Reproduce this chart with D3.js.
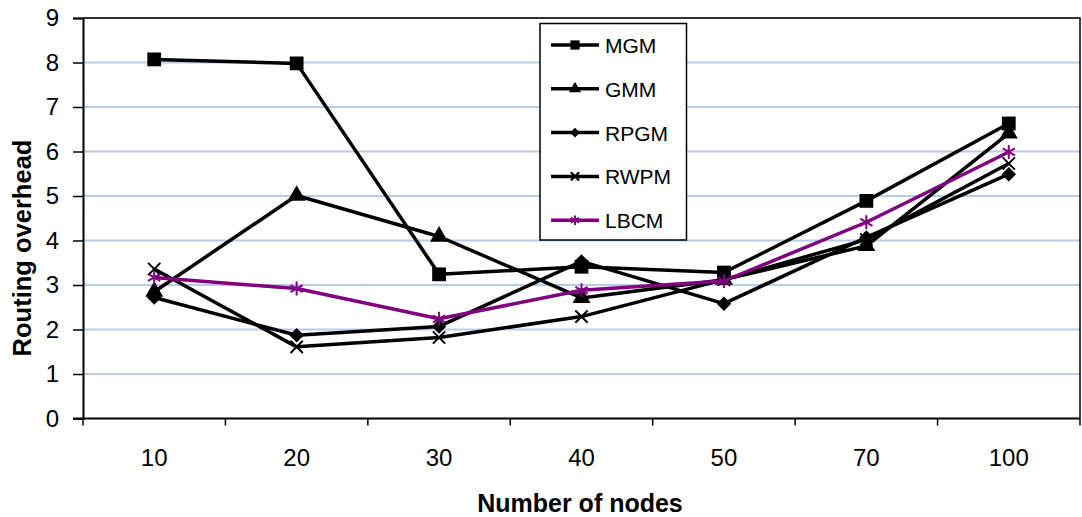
<!DOCTYPE html>
<html>
<head>
<meta charset="utf-8">
<script src="https://cdn.jsdelivr.net/npm/d3@7"></script>
<style>
  html, body { margin: 0; padding: 0; background: #fff; }
  svg { display: block; font-family: "Liberation Sans", Arial, sans-serif; }
</style>
</head>
<body>
<svg id="chart" width="1082" height="517"></svg>
<script>
// Routing overhead per scheme, by number of nodes
const categories = ["10", "20", "30", "40", "50", "70", "100"];
const yTicks = [0, 1, 2, 3, 4, 5, 6, 7, 8, 9];
const seriesNames = ["MGM", "GMM", "RPGM", "RWPM", "LBCM"];
const MGM  = [8.07, 7.98, 3.24, 3.41, 3.28, 4.89, 6.63];
const GMM  = [2.85, 5.01, 4.09, 2.71, 3.12, 3.88, 6.41];
const RPGM = [2.72, 1.87, 2.07, 3.53, 2.58, 4.07, 5.49];
const RWPM = [3.36, 1.61, 1.82, 2.29, 3.12, 4.02, 5.73];
const LBCM = [3.17, 2.92, 2.24, 2.88, 3.09, 4.41, 5.99];
const seriesValues = [MGM, GMM, RPGM, RWPM, LBCM];
const seriesColors = ["#000000", "#000000", "#000000", "#000000", "#800080"];
const seriesMarkers = ["square", "triangle", "diamond", "x", "asterisk"];

const svg = d3.select("#chart");
const plot = { left: 83, right: 1080, top: 18, bottom: 418.5 };

const x = d3.scaleBand().domain(categories).range([plot.left, plot.right]).padding(0);
const y = d3.scaleLinear().domain([0, 9]).range([plot.bottom, plot.top]);
const cx = c => x(c) + x.bandwidth() / 2;

// horizontal gridlines
svg.append("g")
  .selectAll("line")
  .data(yTicks.filter(t => t > 0))
  .join("line")
  .attr("x1", plot.left).attr("x2", plot.right)
  .attr("y1", d => y(d)).attr("y2", d => y(d))
  .attr("stroke", "#b9cbea").attr("stroke-width", 2);

// plot frame (top and right)
svg.append("path")
  .attr("d", `M${plot.left},${plot.top}H${plot.right}V${plot.bottom}`)
  .attr("fill", "none").attr("stroke", "#000").attr("stroke-width", 1.5);

// y axis
const yAxis = svg.append("g")
  .attr("transform", `translate(${plot.left},0)`)
  .call(d3.axisLeft(y).tickValues(yTicks).tickSize(10).tickPadding(14).tickFormat(d3.format("d")));
yAxis.select(".domain").attr("stroke-width", 2);
yAxis.selectAll(".tick line").attr("stroke-width", 1.5);
yAxis.selectAll("text").attr("font-size", 24).attr("font-family", "Liberation Sans, Arial, sans-serif").attr("fill", "#000");

// x axis: ticks on band boundaries, labels centred in bands
const xAxis = svg.append("g")
  .attr("transform", `translate(0,${plot.bottom})`);
xAxis.append("line")
  .attr("x1", plot.left - 10).attr("x2", plot.right)
  .attr("stroke", "#000").attr("stroke-width", 2);
const bounds = categories.map(c => x(c)).concat([plot.right]);
xAxis.selectAll("line.tk")
  .data(bounds)
  .join("line").attr("class", "tk")
  .attr("x1", d => d).attr("x2", d => d)
  .attr("y1", 0).attr("y2", 7)
  .attr("stroke", "#000").attr("stroke-width", 1.5);
xAxis.selectAll("text")
  .data(categories)
  .join("text")
  .attr("x", d => cx(d)).attr("y", 47)
  .attr("text-anchor", "middle")
  .attr("font-size", 24)
  .text(d => d);

// axis titles
svg.append("text")
  .attr("x", 580).attr("y", 512)
  .attr("text-anchor", "middle")
  .attr("font-size", 25).attr("font-weight", "bold")
  .text("Number of nodes");
svg.append("text")
  .attr("transform", "translate(31,248) rotate(-90)")
  .attr("text-anchor", "middle")
  .attr("font-size", 25.5).attr("font-weight", "bold")
  .text("Routing overhead");

// marker shapes
function markerPath(kind, scale) {
  switch (kind) {
    case "square":   return d3.symbol(d3.symbolSquare, 190 * scale)();
    case "triangle": return d3.symbol(d3.symbolTriangle, 140 * scale)();
    case "diamond":  return d3.symbol(d3.symbolSquare, 105 * scale)();
    case "x":        return d3.symbol(d3.symbolX, 100 * scale)();
    case "asterisk": return d3.symbol(d3.symbolAsterisk, 140 * scale)();
  }
}
function drawMarker(g, kind, color, px, py, scale) {
  const stroked = kind === "x" || kind === "asterisk";
  const p = g.append("path")
    .attr("d", markerPath(kind, scale))
    .attr("transform", `translate(${px},${py})` + (kind === "diamond" ? " rotate(45)" : ""));
  if (stroked) p.attr("fill", "none").attr("stroke", color).attr("stroke-width", 2);
  else p.attr("fill", color);
}

const line = d3.line().x(d => cx(d.c)).y(d => y(d.v));

seriesNames.forEach((name, i) => {
  const pts = categories.map((c, j) => ({ c, v: seriesValues[i][j] }));
  const g = svg.append("g").attr("class", "series-" + name);
  g.append("path")
    .datum(pts)
    .attr("d", line)
    .attr("fill", "none")
    .attr("stroke", seriesColors[i])
    .attr("stroke-width", 3.5)
    .attr("stroke-linejoin", "round");
  pts.forEach(p => drawMarker(g, seriesMarkers[i], seriesColors[i], cx(p.c), y(p.v), 1));
});

// legend
const legend = svg.append("g");
legend.append("rect")
  .attr("x", 540).attr("y", 23.5).attr("width", 146.5).attr("height", 216.5)
  .attr("fill", "#fff").attr("stroke", "#000").attr("stroke-width", 1.5);
seriesNames.forEach((name, i) => {
  const ly = 45 + i * 43.8;
  legend.append("line")
    .attr("x1", 551).attr("x2", 599).attr("y1", ly).attr("y2", ly)
    .attr("stroke", seriesColors[i]).attr("stroke-width", 3.5);
  drawMarker(legend, seriesMarkers[i], seriesColors[i], 575, ly, 0.45);
  legend.append("text")
    .attr("x", 605).attr("y", ly + 8)
    .attr("font-size", 21)
    .text(name);
});
</script>
</body>
</html>
